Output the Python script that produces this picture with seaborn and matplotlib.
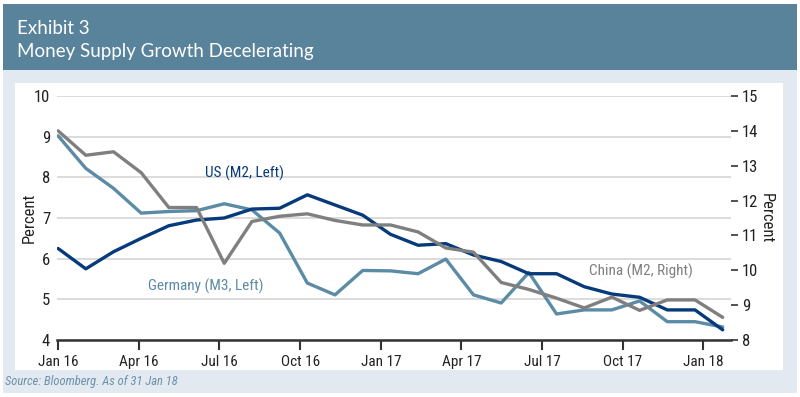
import numpy as np
import pandas as pd
import matplotlib
matplotlib.use("Agg")
import matplotlib.pyplot as plt
import seaborn as sns
from matplotlib.patches import Rectangle
from matplotlib import font_manager

# ---------------- data ----------------
months = ["Jan 16", "Feb 16", "Mar 16", "Apr 16", "May 16", "Jun 16", "Jul 16", "Aug 16",
          "Sep 16", "Oct 16", "Nov 16", "Dec 16", "Jan 17", "Feb 17", "Mar 17", "Apr 17",
          "May 17", "Jun 17", "Jul 17", "Aug 17", "Sep 17", "Oct 17", "Nov 17", "Dec 17", "Jan 18"]
us_m2 = [6.25, 5.75, 6.17, 6.50, 6.81, 6.95, 7.00, 7.22, 7.24, 7.57,
         7.32, 7.07, 6.60, 6.33, 6.37, 6.09, 5.93, 5.63, 5.63, 5.31,
         5.13, 5.05, 4.74, 4.74, 4.25]
germany_m3 = [9.02, 8.22, 7.73, 7.12, 7.16, 7.18, 7.35, 7.20, 6.63, 5.40,
              5.11, 5.71, 5.70, 5.63, 5.99, 5.11, 4.91, 5.66, 4.64, 4.74,
              4.74, 4.96, 4.45, 4.45, 4.32]
china_m2 = [14.0, 13.3, 13.4, 12.8, 11.8, 11.8, 10.2, 11.4, 11.55, 11.62,
            11.43, 11.3, 11.3, 11.1, 10.64, 10.52, 9.65, 9.45, 9.2, 8.92,
            9.23, 8.85, 9.15, 9.15, 8.65]
tick_labels = ["Jan 16", "Apr 16", "Jul 16", "Oct 16", "Jan 17", "Apr 17", "Jul 17", "Oct 17", "Jan 18"]
left_ticks = [4, 5, 6, 7, 8, 9, 10]
right_ticks = [8, 9, 10, 11, 12, 13, 14, 15]

df = pd.DataFrame({"pos": np.arange(len(months)), "month": months,
                   "US": us_m2, "Germany": germany_m3, "China": china_m2})

# ---------------- fonts ----------------
avail = {f.name for f in font_manager.fontManager.ttflist}
def pick(*names):
    for n in names:
        if n in avail:
            return n
    return "DejaVu Sans"
NARROW = pick("Liberation Sans Narrow", "Roboto Condensed", "DejaVu Sans Condensed", "Liberation Sans")
TITLE = pick("Lato", "Open Sans", "Noto Sans")

sns.set_theme(style="white")
plt.rcParams["font.family"] = [NARROW, "DejaVu Sans"]

C_HEADER = "#58839b"
C_PANEL = "#e3e9f0"
C_US = "#063a7a"
C_GER = "#5b8ba5"
C_CHINA = "#7f7f7f"
C_TEXT = "#222222"

W, H = 800, 397
fig = plt.figure(figsize=(W / 100, H / 100), dpi=100)
fig.patch.set_facecolor("white")

def frect(x0, y0, x1, y1, color):
    fig.patches.append(Rectangle((x0 / W, 1 - y1 / H), (x1 - x0) / W, (y1 - y0) / H,
                                 transform=fig.transFigure, facecolor=color,
                                 edgecolor="none", zorder=-10))

frect(3, 4, 797, 70, C_HEADER)
frect(3, 70, 797, 393, C_PANEL)
frect(15, 83, 783, 370, "white")

fig.text(17 / W, 1 - 29 / H, "Exhibit 3", color="white", fontsize=13.5,
         family=TITLE, va="center", ha="left")
fig.text(17 / W, 1 - 51 / H, "Money Supply Growth Decelerating", color="white",
         fontsize=13.5, family=TITLE, va="center", ha="left")
fig.text(5 / W, 1 - 382 / H, "Source: Bloomberg. As of 31 Jan 18", color="#6a90a8",
         fontsize=9, style="italic", va="center", ha="left")

x_left, x_right, y_top, y_bot = 57, 731, 96, 340
ax = fig.add_axes([x_left / W, 1 - y_bot / H, (x_right - x_left) / W, (y_bot - y_top) / H])
ax.set_facecolor("none")
ax2 = ax.twinx()

lw = 2.4
sns.lineplot(data=df, x="pos", y="US", ax=ax, color=C_US, linewidth=lw, zorder=3)
sns.lineplot(data=df, x="pos", y="Germany", ax=ax, color=C_GER, linewidth=lw, zorder=2)
sns.lineplot(data=df, x="pos", y="China", ax=ax2, color=C_CHINA, linewidth=lw, zorder=2)

# x axis: quarterly ticks (spacing slightly compressed relative to data, as in reference)
tick_step = 3 * 26.9 / 27.7
tick_pos = np.arange(len(tick_labels)) * tick_step
ax.set_xlim(-0.04, 24.3)
ax.set_xticks(tick_pos)
ax.set_xticklabels(tick_labels, fontsize=11, color=C_TEXT)
ax.tick_params(axis="x", direction="out", length=7, width=1.5, color="#333333", pad=4, bottom=True)

ax.set_ylim(4, 10)
ax.set_yticks(left_ticks)
ax.set_yticklabels([str(t) for t in left_ticks], fontsize=12, color=C_TEXT)
ax.tick_params(axis="y", length=0, pad=5)
ax.yaxis.grid(True, color="#d9d9d9", linewidth=1.3)
ax.set_axisbelow(True)
ax.set_xlabel("")
ax.set_ylabel("Percent", fontsize=12, color=C_TEXT)
ax.yaxis.set_label_coords(-0.030, 0.5)

ax2.set_ylim(8, 15)
ax2.set_yticks(right_ticks)
ax2.set_yticklabels([str(t) for t in right_ticks], fontsize=12, color=C_TEXT)
ax2.tick_params(axis="y", direction="out", length=5, width=1.2, color="#333333", pad=3, right=True)
ax2.set_ylabel("Percent", fontsize=12, color=C_TEXT, rotation=270, labelpad=11)
ax2.grid(False)

for a in (ax, ax2):
    for s in ("top", "left", "right"):
        a.spines[s].set_visible(False)
ax2.spines["bottom"].set_visible(False)
ax.spines["bottom"].set_color("#333333")
ax.spines["bottom"].set_linewidth(1.8)

# series labels
def ptext(x, y, s, c):
    fig.text(x / W, 1 - y / H, s, fontsize=11, color=c, va="center", ha="left")
ptext(205, 173, "US (M2, Left)", C_US)
ptext(148, 286, "Germany (M3, Left)", C_GER)
ptext(589, 271, "China (M2, Right)", C_CHINA)

fig.savefig("out.png", dpi=100, facecolor="white")
